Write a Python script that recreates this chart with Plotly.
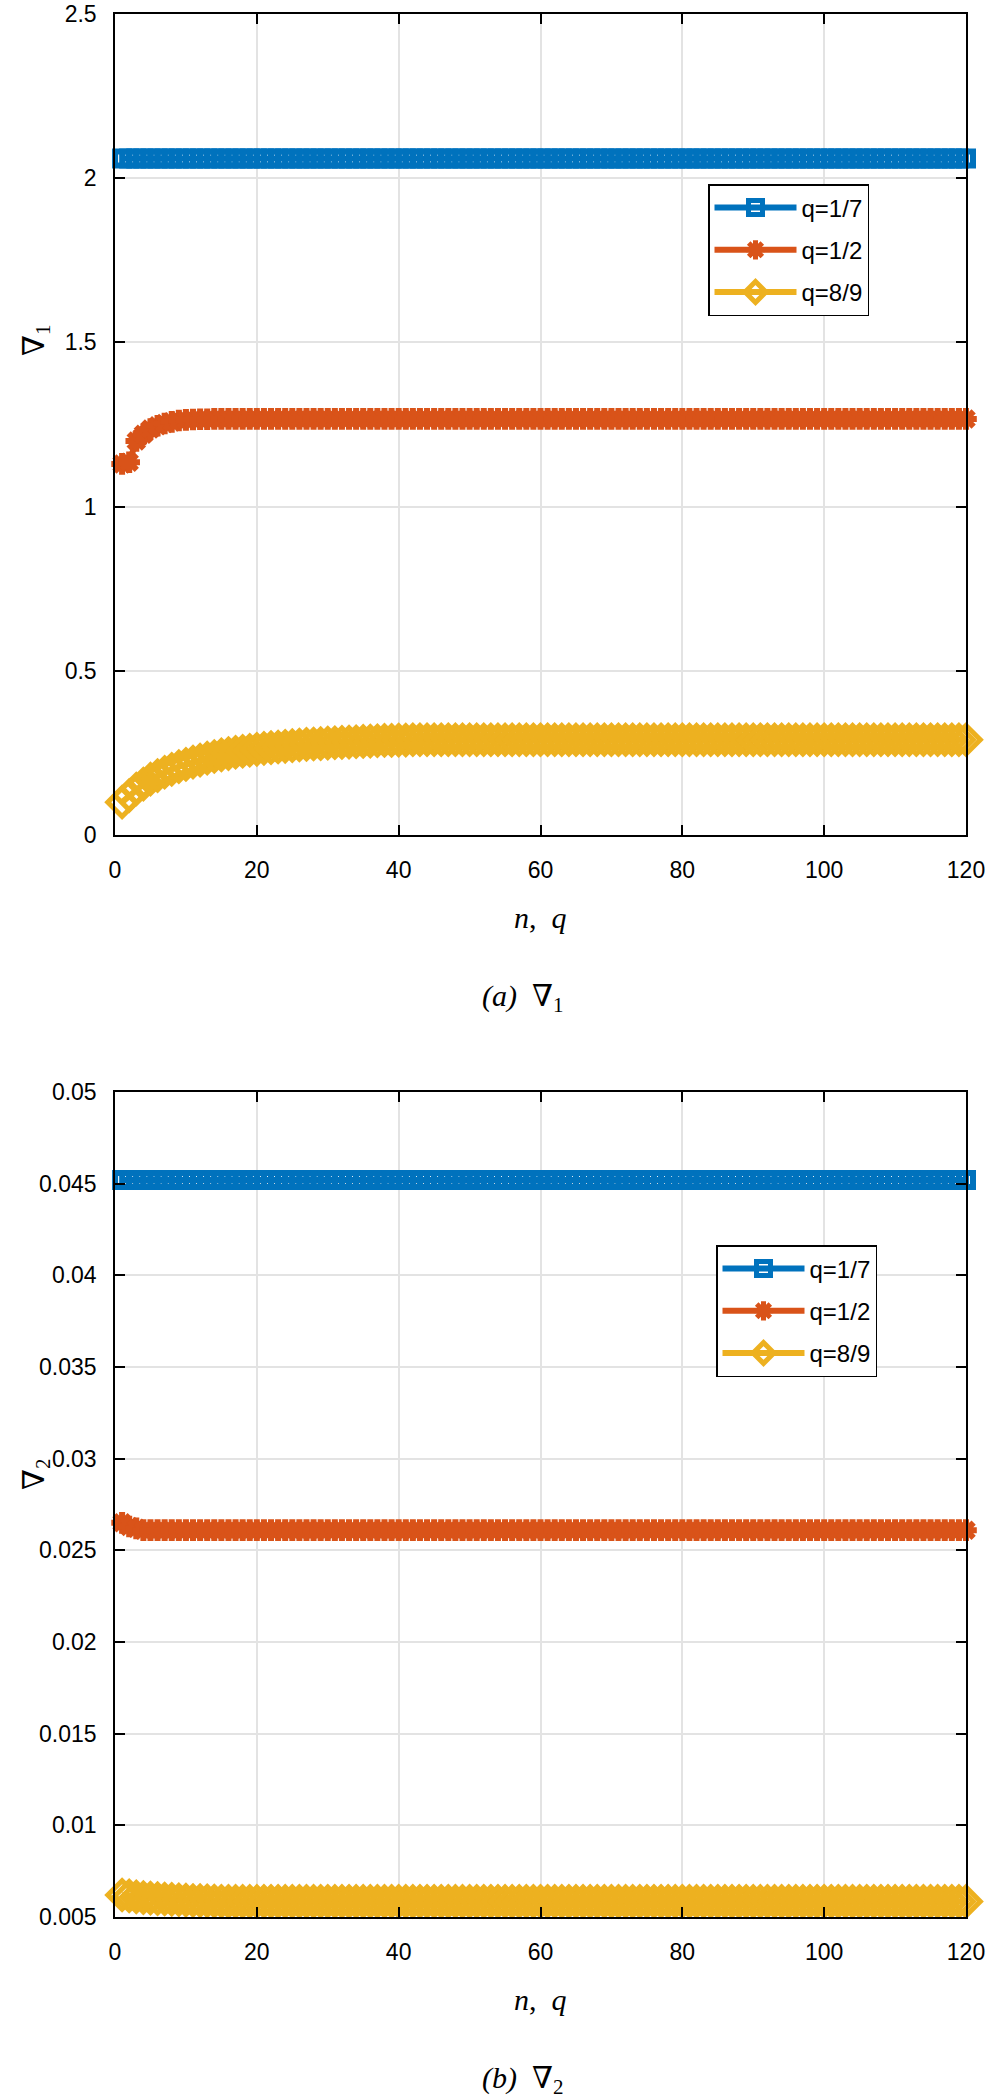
import plotly.graph_objects as go

# n = 1..120
n = list(range(1, 121))

# (a) nabla_1
nab1_q17 = [
    2.06, 2.06, 2.06, 2.06, 2.06, 2.06, 2.06, 2.06, 2.06, 2.06, 2.06, 2.06, 2.06, 2.06, 2.06, 2.06, 2.06, 2.06, 2.06, 2.06,
    2.06, 2.06, 2.06, 2.06, 2.06, 2.06, 2.06, 2.06, 2.06, 2.06, 2.06, 2.06, 2.06, 2.06, 2.06, 2.06, 2.06, 2.06, 2.06, 2.06,
    2.06, 2.06, 2.06, 2.06, 2.06, 2.06, 2.06, 2.06, 2.06, 2.06, 2.06, 2.06, 2.06, 2.06, 2.06, 2.06, 2.06, 2.06, 2.06, 2.06,
    2.06, 2.06, 2.06, 2.06, 2.06, 2.06, 2.06, 2.06, 2.06, 2.06, 2.06, 2.06, 2.06, 2.06, 2.06, 2.06, 2.06, 2.06, 2.06, 2.06,
    2.06, 2.06, 2.06, 2.06, 2.06, 2.06, 2.06, 2.06, 2.06, 2.06, 2.06, 2.06, 2.06, 2.06, 2.06, 2.06, 2.06, 2.06, 2.06, 2.06,
    2.06, 2.06, 2.06, 2.06, 2.06, 2.06, 2.06, 2.06, 2.06, 2.06, 2.06, 2.06, 2.06, 2.06, 2.06, 2.06, 2.06, 2.06, 2.06, 2.06,
]
nab1_q12 = [
    1.130, 1.135, 1.200, 1.220, 1.236, 1.246, 1.253, 1.258, 1.262, 1.264,
    1.265, 1.266, 1.266, 1.267, 1.267, 1.267, 1.267, 1.267, 1.267, 1.267,
    1.267, 1.267, 1.267, 1.267, 1.267, 1.267, 1.267, 1.267, 1.267, 1.267,
    1.267, 1.267, 1.267, 1.267, 1.267, 1.267, 1.267, 1.267, 1.267, 1.267,
    1.267, 1.267, 1.267, 1.267, 1.267, 1.267, 1.267, 1.267, 1.267, 1.267,
    1.267, 1.267, 1.267, 1.267, 1.267, 1.267, 1.267, 1.267, 1.267, 1.267,
    1.267, 1.267, 1.267, 1.267, 1.267, 1.267, 1.267, 1.267, 1.267, 1.267,
    1.267, 1.267, 1.267, 1.267, 1.267, 1.267, 1.267, 1.267, 1.267, 1.267,
    1.267, 1.267, 1.267, 1.267, 1.267, 1.267, 1.267, 1.267, 1.267, 1.267,
    1.267, 1.267, 1.267, 1.267, 1.267, 1.267, 1.267, 1.267, 1.267, 1.267,
    1.267, 1.267, 1.267, 1.267, 1.267, 1.267, 1.267, 1.267, 1.267, 1.267,
    1.267, 1.267, 1.267, 1.267, 1.267, 1.267, 1.267, 1.267, 1.267, 1.267,
]
nab1_q89 = [
    0.100, 0.120, 0.140, 0.155, 0.170, 0.181, 0.191, 0.200, 0.208, 0.215,
    0.222, 0.228, 0.234, 0.239, 0.244, 0.248, 0.252, 0.255, 0.258, 0.261,
    0.264, 0.266, 0.268, 0.270, 0.272, 0.274, 0.276, 0.277, 0.278, 0.280,
    0.281, 0.282, 0.283, 0.284, 0.285, 0.286, 0.287, 0.288, 0.288, 0.289,
    0.289, 0.290, 0.290, 0.290, 0.290, 0.290, 0.290, 0.290, 0.290, 0.290,
    0.290, 0.290, 0.290, 0.290, 0.290, 0.290, 0.290, 0.290, 0.290, 0.290,
    0.290, 0.290, 0.290, 0.290, 0.290, 0.290, 0.290, 0.290, 0.290, 0.290,
    0.290, 0.290, 0.290, 0.290, 0.290, 0.290, 0.290, 0.290, 0.290, 0.290,
    0.290, 0.290, 0.290, 0.290, 0.290, 0.290, 0.290, 0.290, 0.290, 0.290,
    0.290, 0.290, 0.290, 0.290, 0.290, 0.290, 0.290, 0.290, 0.290, 0.290,
    0.290, 0.290, 0.290, 0.290, 0.290, 0.290, 0.290, 0.290, 0.290, 0.290,
    0.290, 0.290, 0.290, 0.290, 0.290, 0.290, 0.290, 0.290, 0.290, 0.290,
]

# (b) nabla_2
nab2_q17 = [
    0.0452, 0.0452, 0.0452, 0.0452, 0.0452, 0.0452, 0.0452, 0.0452, 0.0452, 0.0452,
    0.0452, 0.0452, 0.0452, 0.0452, 0.0452, 0.0452, 0.0452, 0.0452, 0.0452, 0.0452,
    0.0452, 0.0452, 0.0452, 0.0452, 0.0452, 0.0452, 0.0452, 0.0452, 0.0452, 0.0452,
    0.0452, 0.0452, 0.0452, 0.0452, 0.0452, 0.0452, 0.0452, 0.0452, 0.0452, 0.0452,
    0.0452, 0.0452, 0.0452, 0.0452, 0.0452, 0.0452, 0.0452, 0.0452, 0.0452, 0.0452,
    0.0452, 0.0452, 0.0452, 0.0452, 0.0452, 0.0452, 0.0452, 0.0452, 0.0452, 0.0452,
    0.0452, 0.0452, 0.0452, 0.0452, 0.0452, 0.0452, 0.0452, 0.0452, 0.0452, 0.0452,
    0.0452, 0.0452, 0.0452, 0.0452, 0.0452, 0.0452, 0.0452, 0.0452, 0.0452, 0.0452,
    0.0452, 0.0452, 0.0452, 0.0452, 0.0452, 0.0452, 0.0452, 0.0452, 0.0452, 0.0452,
    0.0452, 0.0452, 0.0452, 0.0452, 0.0452, 0.0452, 0.0452, 0.0452, 0.0452, 0.0452,
    0.0452, 0.0452, 0.0452, 0.0452, 0.0452, 0.0452, 0.0452, 0.0452, 0.0452, 0.0452,
    0.0452, 0.0452, 0.0452, 0.0452, 0.0452, 0.0452, 0.0452, 0.0452, 0.0452, 0.0452,
]
nab2_q12 = [
    0.0265, 0.0263, 0.0262, 0.0261, 0.0261, 0.0261, 0.0261, 0.0261, 0.0261, 0.0261,
    0.0261, 0.0261, 0.0261, 0.0261, 0.0261, 0.0261, 0.0261, 0.0261, 0.0261, 0.0261,
    0.0261, 0.0261, 0.0261, 0.0261, 0.0261, 0.0261, 0.0261, 0.0261, 0.0261, 0.0261,
    0.0261, 0.0261, 0.0261, 0.0261, 0.0261, 0.0261, 0.0261, 0.0261, 0.0261, 0.0261,
    0.0261, 0.0261, 0.0261, 0.0261, 0.0261, 0.0261, 0.0261, 0.0261, 0.0261, 0.0261,
    0.0261, 0.0261, 0.0261, 0.0261, 0.0261, 0.0261, 0.0261, 0.0261, 0.0261, 0.0261,
    0.0261, 0.0261, 0.0261, 0.0261, 0.0261, 0.0261, 0.0261, 0.0261, 0.0261, 0.0261,
    0.0261, 0.0261, 0.0261, 0.0261, 0.0261, 0.0261, 0.0261, 0.0261, 0.0261, 0.0261,
    0.0261, 0.0261, 0.0261, 0.0261, 0.0261, 0.0261, 0.0261, 0.0261, 0.0261, 0.0261,
    0.0261, 0.0261, 0.0261, 0.0261, 0.0261, 0.0261, 0.0261, 0.0261, 0.0261, 0.0261,
    0.0261, 0.0261, 0.0261, 0.0261, 0.0261, 0.0261, 0.0261, 0.0261, 0.0261, 0.0261,
    0.0261, 0.0261, 0.0261, 0.0261, 0.0261, 0.0261, 0.0261, 0.0261, 0.0261, 0.0261,
]
nab2_q89 = [
    0.00620, 0.00615, 0.00610, 0.00606, 0.00603, 0.00600, 0.00598, 0.00596, 0.00594, 0.00592,
    0.00590, 0.00589, 0.00588, 0.00587, 0.00586, 0.00585, 0.00585, 0.00585, 0.00585, 0.00585,
    0.00585, 0.00585, 0.00585, 0.00585, 0.00585, 0.00585, 0.00585, 0.00585, 0.00585, 0.00585,
    0.00585, 0.00585, 0.00585, 0.00585, 0.00585, 0.00585, 0.00585, 0.00585, 0.00585, 0.00585,
    0.00585, 0.00585, 0.00585, 0.00585, 0.00585, 0.00585, 0.00585, 0.00585, 0.00585, 0.00585,
    0.00585, 0.00585, 0.00585, 0.00585, 0.00585, 0.00585, 0.00585, 0.00585, 0.00585, 0.00585,
    0.00585, 0.00585, 0.00585, 0.00585, 0.00585, 0.00585, 0.00585, 0.00585, 0.00585, 0.00585,
    0.00585, 0.00585, 0.00585, 0.00585, 0.00585, 0.00585, 0.00585, 0.00585, 0.00585, 0.00585,
    0.00585, 0.00585, 0.00585, 0.00585, 0.00585, 0.00585, 0.00585, 0.00585, 0.00585, 0.00585,
    0.00585, 0.00585, 0.00585, 0.00585, 0.00585, 0.00585, 0.00585, 0.00585, 0.00585, 0.00585,
    0.00585, 0.00585, 0.00585, 0.00585, 0.00585, 0.00585, 0.00585, 0.00585, 0.00585, 0.00585,
    0.00585, 0.00585, 0.00585, 0.00585, 0.00585, 0.00585, 0.00585, 0.00585, 0.00585, 0.00585,
]

names = ["q=1/7", "q=1/2", "q=8/9"]
colors = ["#0072BD", "#D95319", "#EDB120"]
symbols = ["square-open", "asterisk-open", "diamond-open"]
msizes = [14, 18, 22]
mwidths = [6, 6, 5]

W, H = 986, 2098


def px(x):
    return x / W


def py(y):
    return 1 - y / H


# plot areas in page pixels
PX0, PX1 = 115, 966
TOP_Y0, TOP_Y1 = 14, 835
BOT_Y0, BOT_Y1 = 1092, 1917

fig = go.Figure()


def add_series(series, tag, legend, xa, ya):
    for i, ys in enumerate(series):
        fig.add_trace(go.Scatter(
            x=n, y=ys, mode="lines+markers", name=names[i],
            line=dict(color=colors[i], width=6),
            marker=dict(symbol=symbols[i], size=msizes[i], color=colors[i],
                        line=dict(color=colors[i], width=mwidths[i])),
            cliponaxis=False, legendgroup=tag + str(i), legend=legend,
            xaxis=xa, yaxis=ya,
        ))


add_series([nab1_q17, nab1_q12, nab1_q89], "a", "legend", "x", "y")
add_series([nab2_q17, nab2_q12, nab2_q89], "b", "legend2", "x2", "y2")

tickfont = dict(family="Liberation Sans, Arial, sans-serif", size=23, color="black")
axis_style = dict(
    showline=True, linecolor="black", linewidth=1.5, mirror="ticks",
    ticks="inside", ticklen=10, tickwidth=1.5, tickcolor="black",
    showgrid=True, gridcolor="#e3e3e3", gridwidth=1.5, zeroline=False,
    tickfont=tickfont, ticklabeloverflow="allow", automargin=False,
)

legend_style = dict(
    xanchor="left", yanchor="top", bgcolor="white", bordercolor="black", borderwidth=1.5,
    font=dict(family="Liberation Sans, Arial, sans-serif", size=24, color="black"),
    traceorder="grouped", tracegroupgap=8, itemwidth=82,
)

xdom = [px(PX0), px(PX1)]
fig.update_layout(
    width=W, height=H, autosize=False,
    margin=dict(l=0, r=0, t=0, b=0, pad=0),
    paper_bgcolor="white", plot_bgcolor="white",
    xaxis=dict(domain=xdom, range=[0, 120], dtick=20, anchor="y",
               ticklabelstandoff=14, **axis_style),
    yaxis=dict(domain=[py(TOP_Y1), py(TOP_Y0)], range=[0, 2.5], dtick=0.5,
               anchor="x", ticklabelstandoff=12, **axis_style),
    xaxis2=dict(domain=xdom, range=[0, 120], dtick=20, anchor="y2",
                ticklabelstandoff=14, **axis_style),
    yaxis2=dict(domain=[py(BOT_Y1), py(BOT_Y0)], range=[0.005, 0.05],
                tick0=0, dtick=0.005, anchor="x2", ticklabelstandoff=12, **axis_style),
    legend=dict(x=px(708), y=py(184), **legend_style),
    legend2=dict(x=px(716), y=py(1245), **legend_style),
    showlegend=True,
)

serif = dict(family="Liberation Serif, DejaVu Serif, serif", size=30, color="black")
ann = [
    dict(text="\u2207<sub>1</sub>", x=px(36), y=py(341), textangle=-90),
    dict(text="\u2207<sub>2</sub>", x=px(36), y=py(1475), textangle=-90),
    dict(text="<i>n</i>,  <i>q</i>", x=px(540), y=py(917)),
    dict(text="<i>n</i>,  <i>q</i>", x=px(540), y=py(1999)),
    dict(text="<i>(a)</i>  \u2207<sub>1</sub>", x=px(522), y=py(998)),
    dict(text="<i>(b)</i>  \u2207<sub>2</sub>", x=px(522), y=py(2080)),
]
for a in ann:
    fig.add_annotation(xref="paper", yref="paper", showarrow=False,
                       xanchor="center", yanchor="middle", font=serif, **a)

# drop the default 8px body margin so the figure fills the window exactly
fig.write_html("out.html", config={"displayModeBar": False},
               post_script="document.body.style.margin='0px';")
